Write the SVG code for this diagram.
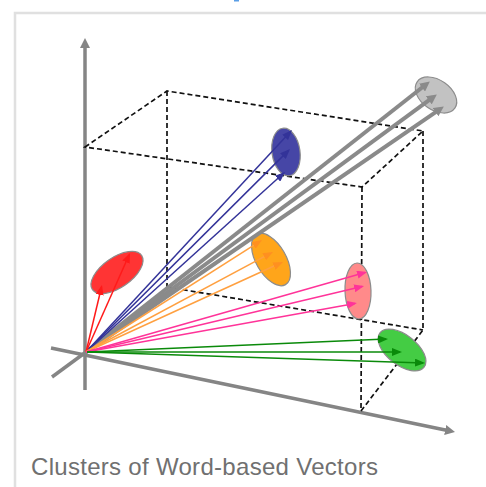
<svg xmlns="http://www.w3.org/2000/svg" width="486" height="487" viewBox="0 0 486 487">
  <style>
    .axis { stroke: #858585; stroke-width: 3.5; fill: none; }
    .box { stroke: #111; stroke-width: 1.7; stroke-dasharray: 5 3; fill: none; }
    .vg { stroke: #8a8a8a; stroke-width: 4; fill: none; marker-end: url(#hGray); }
    .vr { stroke: #ff1a1a; stroke-width: 1.5; fill: none; marker-end: url(#hRed); }
    .vb { stroke: #333399; stroke-width: 1.5; fill: none; marker-end: url(#hBlue); }
    .vo { stroke: #ffa040; stroke-width: 1.5; fill: none; marker-end: url(#hOrange); }
    .vp { stroke: #ff3399; stroke-width: 1.5; fill: none; marker-end: url(#hPink); }
    .vgr { stroke: #0a8a0a; stroke-width: 1.5; fill: none; marker-end: url(#hGreen); }
    .cl { stroke: #8c8c8c; stroke-width: 1.2; }
    .caption { font-family: "Liberation Sans", Arial, sans-serif; font-size: 24px; fill: #707070; }
  </style>
  <defs>
    <marker id="hAxis" viewBox="0 0 10 10" refX="5" refY="5" markerWidth="10" markerHeight="10" markerUnits="userSpaceOnUse" orient="auto">
      <path d="M0,0 L10,5 L0,10 z" fill="#858585"/>
    </marker>
    <marker id="hGray" viewBox="0 0 10 10" refX="5" refY="5" markerWidth="10" markerHeight="10" markerUnits="userSpaceOnUse" orient="auto">
      <path d="M0,0 L10,5 L0,10 z" fill="#8a8a8a"/>
    </marker>
    <marker id="hRed" viewBox="0 0 10 8" refX="8" refY="4" markerWidth="10" markerHeight="8" markerUnits="userSpaceOnUse" orient="auto">
      <path d="M0,0 L10,4 L0,8 z" fill="#ff1a1a"/>
    </marker>
    <marker id="hBlue" viewBox="0 0 10 8" refX="8" refY="4" markerWidth="10" markerHeight="8" markerUnits="userSpaceOnUse" orient="auto">
      <path d="M0,0 L10,4 L0,8 z" fill="#333399"/>
    </marker>
    <marker id="hOrange" viewBox="0 0 10 8" refX="8" refY="4" markerWidth="10" markerHeight="8" markerUnits="userSpaceOnUse" orient="auto">
      <path d="M0,0 L10,4 L0,8 z" fill="#ff9020"/>
    </marker>
    <marker id="hPink" viewBox="0 0 10 8" refX="8" refY="4" markerWidth="10" markerHeight="8" markerUnits="userSpaceOnUse" orient="auto">
      <path d="M0,0 L10,4 L0,8 z" fill="#ff3399"/>
    </marker>
    <marker id="hGreen" viewBox="0 0 10 8" refX="8" refY="4" markerWidth="10" markerHeight="8" markerUnits="userSpaceOnUse" orient="auto">
      <path d="M0,0 L10,4 L0,8 z" fill="#0a8a0a"/>
    </marker>
  </defs>

  <rect width="486" height="487" fill="#ffffff"/>
  <!-- panel frame -->
  <rect x="15" y="13" width="520" height="520" fill="none" stroke="#e0e0e0" stroke-width="2.5"/>
  <rect x="234" y="0" width="5" height="1.5" fill="#5a9ee6"/>

  <!-- coordinate axes -->
  <g id="axes">
    <line class="axis" x1="85" y1="390" x2="85" y2="43" marker-end="url(#hAxis)"/>
    <line class="axis" x1="51" y1="348" x2="450.1" y2="431" marker-end="url(#hAxis)"/>
    <line class="axis" x1="52" y1="377" x2="86" y2="352"/>
  </g>

  <!-- dashed bounding box -->
  <g id="box">
    <path class="box" d="M85,147 L167,91 L423,131 L362,187 Z"/>
    <line class="box" x1="167" y1="91" x2="167" y2="287"/>
    <line class="box" x1="167" y1="287" x2="423" y2="330"/>
    <line class="box" x1="423" y1="131" x2="423" y2="330"/>
    <line class="box" x1="362" y1="187" x2="361" y2="411"/>
    <line class="box" x1="361" y1="411" x2="423" y2="330"/>
  </g>

  <!-- clusters -->
  <g id="cluster-gray">
    <ellipse class="cl" cx="436" cy="95" rx="23" ry="15" transform="rotate(35 436 95)" fill="#c2c2c2"/>
  </g>
  <g id="cluster-blue">
    <ellipse class="cl" cx="286" cy="152" rx="14" ry="24" transform="rotate(-8 286 152)" fill="#4646a6"/>
  </g>
  <g id="cluster-red">
    <ellipse class="cl" cx="117" cy="272.5" rx="30" ry="15" transform="rotate(-35 117 272.5)" fill="#ff3434"/>
  </g>
  <g id="cluster-orange">
    <ellipse class="cl" cx="271" cy="259.5" rx="29" ry="15" transform="rotate(60 271 259.5)" fill="#ffa51a"/>
  </g>
  <g id="cluster-pink">
    <ellipse class="cl" cx="358" cy="291" rx="13" ry="28" transform="rotate(-2 358 291)" fill="#ff8a8a"/>
  </g>
  <g id="cluster-green">
    <ellipse class="cl" cx="402" cy="350" rx="28" ry="15" transform="rotate(38 402 350)" fill="#44cc44"/>
  </g>

  <!-- vectors from the origin -->
  <g id="connectors">
    <line class="vg" x1="86" y1="352" x2="425.9" y2="84.5"/>
    <line class="vg" x1="86" y1="352" x2="432.8" y2="97.4"/>
    <line class="vg" x1="86" y1="352" x2="439.7" y2="109.3"/>

    <line class="vb" x1="86" y1="352" x2="290.6" y2="131.5"/>
    <line class="vb" x1="86" y1="352" x2="288.6" y2="150.4"/>
    <line class="vb" x1="86" y1="352" x2="283.5" y2="173.3"/>

    <line class="vr" x1="86" y1="352" x2="129.2" y2="254.8"/>
    <line class="vr" x1="86" y1="352" x2="101.5" y2="287"/>

    <line class="vo" x1="86" y1="352" x2="260.3" y2="241.1"/>
    <line class="vo" x1="86" y1="352" x2="271.2" y2="252.9"/>
    <line class="vo" x1="86" y1="352" x2="281.2" y2="262.8"/>

    <line class="vp" x1="86" y1="352" x2="365.1" y2="272.5"/>
    <line class="vp" x1="86" y1="352" x2="362.1" y2="286.5"/>
    <line class="vp" x1="86" y1="352" x2="355" y2="303.4"/>

    <line class="vgr" x1="87" y1="352" x2="386" y2="339.1"/>
    <line class="vgr" x1="87" y1="352" x2="400" y2="352"/>
    <line class="vgr" x1="87" y1="352" x2="423" y2="362.9"/>
  </g>

  <text class="caption" x="31" y="475" textLength="347" lengthAdjust="spacing">Clusters of Word-based Vectors</text>
</svg>
